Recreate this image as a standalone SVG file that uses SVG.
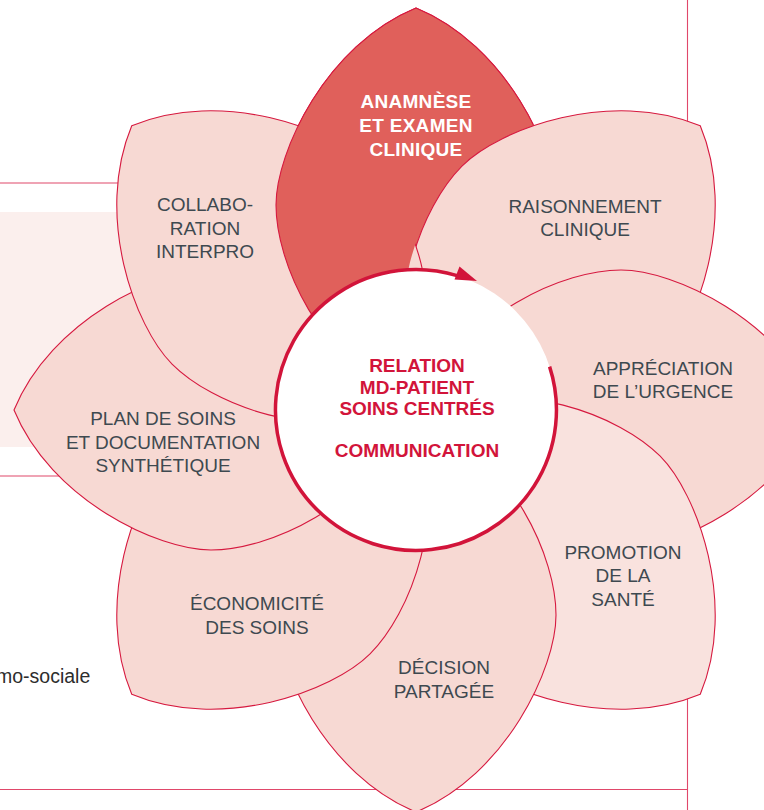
<svg xmlns="http://www.w3.org/2000/svg" xmlns:xlink="http://www.w3.org/1999/xlink" width="764" height="810" viewBox="0 0 764 810">
<style>
.bgline{stroke:#e0486a;stroke-width:1.1;fill:none}
.petal{fill:#f7d9d3;stroke:#d6193f;stroke-width:1.1}
.hi{fill:#e0605b}
.lite{fill:#f9e2de}
.lbl{font-family:"Liberation Sans",Arial,Helvetica,sans-serif;font-size:19px;fill:#3e4950;text-anchor:middle}
.wb{font-weight:bold;fill:#ffffff;letter-spacing:0.3px}
.ctr{font-weight:bold;fill:#d2143a}
.side{font-family:"Liberation Sans",Arial,Helvetica,sans-serif;font-size:19.5px;fill:#2d2d2d}
.ring{fill:none;stroke:#d2143a;stroke-width:3.5}
</style>
<defs>
<path id="petal" d="M0,-402 C-90,-365 -140,-258 -140,-205 C-140,-150 -100,-50 0,0 C100,-50 140,-150 140,-205 C140,-258 90,-365 0,-402Z"/>
<mask id="notR" maskUnits="userSpaceOnUse" x="0" y="0" width="764" height="810">
<rect x="0" y="0" width="764" height="810" fill="#fff"/>
<use xlink:href="#petal" href="#petal" transform="translate(416 410) rotate(45)" fill="#000" stroke="#000" stroke-width="2.5"/>
</mask>
</defs>

<g id="background">
<rect x="0" y="212" width="300" height="235" fill="#fbefed"/>
<line class="bgline" x1="0" y1="183" x2="300" y2="183"/>
<line class="bgline" x1="0" y1="476" x2="300" y2="476"/>
<line class="bgline" x1="0" y1="789.5" x2="687.5" y2="789.5"/>
<line class="bgline" x1="687.5" y1="0" x2="687.5" y2="810"/>
<text class="side" x="-4" y="683">mo-sociale</text>
</g>

<g id="petals">
<g id="node-anamnese-base"><use xlink:href="#petal" href="#petal" class="petal hi" transform="translate(416 410) rotate(0)"/></g>
<g id="node-raisonnement">
<use xlink:href="#petal" href="#petal" class="petal" transform="translate(416 410) rotate(45)"/>
<text class="lbl" x="585" y="212.5">RAISONNEMENT</text>
<text class="lbl" x="585" y="236">CLINIQUE</text>
</g>
<g id="node-appreciation">
<use xlink:href="#petal" href="#petal" class="petal" transform="translate(416 410) rotate(90)"/>
<text class="lbl" x="663" y="374.5">APPRÉCIATION</text>
<text class="lbl" x="663" y="398">DE L’URGENCE</text>
</g>
<g id="node-promotion">
<use xlink:href="#petal" href="#petal" class="petal lite" transform="translate(416 410) rotate(135)"/>
<text class="lbl" x="623" y="558.5">PROMOTION</text>
<text class="lbl" x="623" y="582">DE LA</text>
<text class="lbl" x="623" y="605.5">SANTÉ</text>
</g>
<g id="node-decision">
<use xlink:href="#petal" href="#petal" class="petal" transform="translate(416 410) rotate(180)"/>
<text class="lbl" x="444" y="674">DÉCISION</text>
<text class="lbl" x="444" y="697.5">PARTAGÉE</text>
</g>
<g id="node-economicite">
<use xlink:href="#petal" href="#petal" class="petal" transform="translate(416 410) rotate(225)"/>
<text class="lbl" x="257" y="610">ÉCONOMICITÉ</text>
<text class="lbl" x="257" y="633.5">DES SOINS</text>
</g>
<g id="node-plan">
<use xlink:href="#petal" href="#petal" class="petal" transform="translate(416 410) rotate(270)"/>
<text class="lbl" x="163" y="425">PLAN DE SOINS</text>
<text class="lbl" x="163" y="448.5">ET DOCUMENTATION</text>
<text class="lbl" x="163" y="472">SYNTHÉTIQUE</text>
</g>
<g id="node-collaboration">
<use xlink:href="#petal" href="#petal" class="petal" transform="translate(416 410) rotate(315)"/>
<text class="lbl" x="205" y="211">COLLABO-</text>
<text class="lbl" x="205" y="234.5">RATION</text>
<text class="lbl" x="205" y="258">INTERPRO</text>
</g>
<g id="node-anamnese">
<g mask="url(#notR)"><use xlink:href="#petal" href="#petal" class="petal hi" transform="translate(416 410) rotate(0)"/></g>
<text class="lbl wb" x="416" y="108">ANAMNÈSE</text>
<text class="lbl wb" x="416" y="132">ET EXAMEN</text>
<text class="lbl wb" x="416" y="155.5">CLINIQUE</text>
</g>
</g>

<g id="node-center">
<circle cx="416" cy="410" r="140.5" fill="#ffffff"/>
<text class="lbl ctr" x="417" y="372">RELATION</text>
<text class="lbl ctr" x="417" y="393.5">MD-PATIENT</text>
<text class="lbl ctr" x="417" y="415">SOINS CENTRÉS</text>
<text class="lbl ctr" x="417" y="456.5">COMMUNICATION</text>
</g>

<g id="connectors">
<path class="ring" d="M549.6,366.6 A140.5,140.5 0 1 1 457.1,275.6"/>
<polygon points="459.5,266.5 477,281 454.5,279.5" fill="#d2143a"/>
</g>
</svg>
